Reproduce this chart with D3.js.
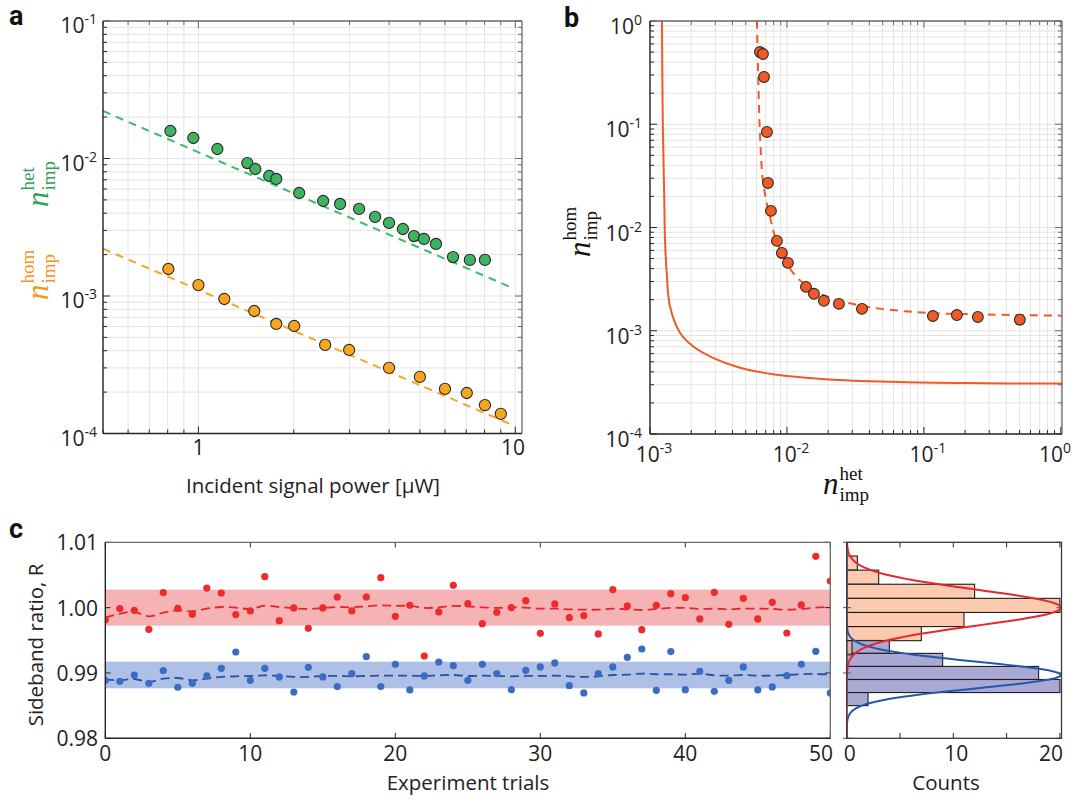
<!DOCTYPE html>
<html>
<head>
<meta charset="utf-8">
<script src="https://cdn.jsdelivr.net/npm/d3@7"></script>
<style>
  body { margin: 0; background: #fff; }
  text { font-family: "Open Sans", "Noto Sans", sans-serif; fill: #222; }
  .math { font-family: "Liberation Serif", "DejaVu Serif", serif; }
  .letter { font-family: Roboto, "Liberation Sans", sans-serif; font-weight: 700; }
</style>
</head>
<body>
<svg id="fig" width="1074" height="803"></svg>
<script>
// ---------------- data ----------------
// (a) imprecision vs incident signal power
const powerHet = [0.816, 0.964, 1.148, 1.427, 1.512, 1.673, 1.761, 2.08, 2.476, 2.8, 3.214, 3.61, 3.996, 4.42, 4.79, 5.15, 5.62, 6.36, 7.19, 8.02];
const nHet     = [0.01585, 0.01409, 0.01172, 0.00927, 0.00839, 0.00746, 0.0071, 0.00561, 0.00491, 0.00467, 0.0043, 0.00376, 0.0034, 0.00307, 0.00273, 0.0026, 0.00239, 0.00192, 0.00183, 0.00183];
const powerHom = [0.804, 1.0, 1.207, 1.501, 1.761, 2.006, 2.512, 2.99, 3.996, 5.0, 6.0, 7.03, 8.02, 9.0];
const nHom     = [0.001572, 0.0012, 0.000951, 0.000778, 0.000626, 0.000605, 0.000441, 0.000405, 0.0003, 0.000258, 0.000211, 0.000197, 0.000161, 0.000139];
// 1/P fit lines, given by their end points [power, n]
const fitHet = [[0.5, 0.02215], [9.64, 0.001163]];
const fitHom = [[0.5, 0.002208], [9.64, 0.0001172]];

// (b) homodyne vs heterodyne imprecision
const bHet = [0.00635, 0.00668, 0.0068, 0.00714, 0.00727, 0.00764, 0.00845, 0.00919, 0.01017, 0.01377, 0.01575, 0.01862, 0.02397, 0.0353, 0.1164, 0.1742, 0.2479, 0.502];
const bHom = [0.501, 0.479, 0.287, 0.0842, 0.027, 0.01448, 0.00742, 0.00567, 0.00454, 0.00266, 0.00228, 0.00195, 0.00182, 0.00163, 0.00139, 0.00142, 0.00136, 0.00128];
// model curve (dashed) and bound (solid)
const modelHet = [0.00604, 0.00617, 0.00635, 0.00671, 0.00751, 0.0084, 0.01112, 0.01549, 0.02307, 0.0382, 0.0668, 0.1164, 0.205, 0.359, 1.02];
const modelHom = [1.0, 0.289, 0.0824, 0.027, 0.01276, 0.00742, 0.00361, 0.00249, 0.00199, 0.00171, 0.00156, 0.00148, 0.00145, 0.001426, 0.0014];
const boundHet = [0.001223, 0.00124, 0.00127, 0.001287, 0.001324, 0.0014, 0.001656, 0.00207, 0.002884, 0.00454, 0.0079, 0.01472, 0.02168, 0.0668, 0.205, 1.02];
const boundHom = [1.0, 0.1, 0.02, 0.00759, 0.003635, 0.001715, 0.000955, 0.000703, 0.000547, 0.000438, 0.00038, 0.000348, 0.000335, 0.000318, 0.000311, 0.000308];

// (c) sideband ratio per trial
const trials = d3.range(0, 51);
const ratioRed = [0.99816, 0.99985, 0.99959, 0.99668, 1.0023, 0.9999, 0.999, 1.003, 1.00224, 0.99893, 0.99949, 1.00474, 0.99801, 0.99995, 0.99684, 0.99995, 1.00163, 0.99949, 1.00163, 1.00459, 0.99867, 1.00036,
  0.9926, 0.99934, 1.00342, 1.00061, 0.99755, 0.99929, 1.0, 1.00107, 0.99607, 1.00056, 0.99847, 0.99878, 0.99597, 1.00276, 1.00026, 0.99663, 1.00036, 1.00214, 1.00153, 0.99827, 1.00235, 0.99745, 1.00143, 0.99827, 1.00082, 0.99612, 1.00041, 1.00786, 1.00408];
const ratioBlue = [0.98888, 0.98872, 0.98969, 0.98842, 0.99036, 0.98781, 0.98842, 0.98954, 0.99071, 0.99321, 0.98888, 0.99071, 0.98939, 0.98709, 0.99087, 0.98939, 0.98791, 0.9899, 0.9925, 0.98791, 0.99133, 0.9874,
  0.98954, 0.99168, 0.99112, 0.98888, 0.99133, 0.9899, 0.98745, 0.99041, 0.99092, 0.99153, 0.98806, 0.98694, 0.9899, 0.99092, 0.9924, 0.99367, 0.98735, 0.99327, 0.98745, 0.99026, 0.98719, 0.98888, 0.99092, 0.9874, 0.98786, 0.98959, 0.99133, 0.99332, 0.98694];
const avgRed = [0.99847, 0.99908, 0.99934, 0.99867, 0.99923, 0.99959, 0.99944, 0.99985, 1.0001, 1.0, 0.9998, 1.00031, 1.0001, 0.9999, 0.9998, 0.99995, 1.0001, 1.00005, 1.0002, 1.00036, 1.00026, 1.00031,
  0.99995, 1.00005, 1.00026, 1.0002, 1.00005, 0.99995, 1.00005, 1.0, 0.99985, 0.99985, 0.99974, 0.99969, 0.99969, 0.99985, 0.99974, 0.99964, 0.9998, 0.99995, 0.99995, 0.9998, 0.99985, 0.99974, 0.99985, 0.99985, 0.9998, 0.99969, 0.9998, 1.0, 1.0001];
const avgBlue = [0.98898, 0.98888, 0.98908, 0.98862, 0.98913, 0.98923, 0.98888, 0.98913, 0.98939, 0.98949, 0.98954, 0.98964, 0.98954, 0.98939, 0.98939, 0.98954, 0.98954, 0.98949, 0.98954, 0.98959, 0.98959, 0.98959,
  0.98954, 0.98964, 0.98969, 0.98954, 0.98959, 0.98954, 0.98949, 0.98954, 0.98954, 0.98959, 0.98949, 0.98939, 0.98949, 0.98969, 0.98974, 0.9899, 0.9898, 0.9898, 0.98974, 0.9899, 0.98964, 0.98959, 0.98969, 0.98959, 0.98959, 0.98969, 0.9898, 0.98985, 0.98974];
const bandRed  = [0.997245, 1.002755];
const bandBlue = [0.98765, 0.99173];

// histogram bins (edges from top to bottom) and counts
const histRedEdges  = [1.0079, 1.00574, 1.00358, 1.00142, 0.99926, 0.9971, 0.99494, 0.99278];
const histRedCounts = [1, 3, 12, 20, 11, 7, 0.5];
const histBlueEdges  = [0.995, 0.993, 0.991, 0.989, 0.987, 0.985];
const histBlueCounts = [4, 9, 18, 20, 2];
// Gaussian fits: [mean, sigma, peak count]
const fitRed  = [1.0, 0.00275, 20.1];
const fitBlue = [0.98969, 0.00204, 20.1];

// tick labels
const aXTicks = [1, 10];
const aYTicks = [1e-4, 1e-3, 1e-2, 1e-1];
const bXTicks = [1e-3, 1e-2, 1e-1, 1];
const bYTicks = [1e-4, 1e-3, 1e-2, 1e-1, 1];
const cXTicks = [0, 10, 20, 30, 40, 50];
const cYTicks = [0.98, 0.99, 1.00, 1.01];
const hXTicks = [0, 10, 20];
const hMinorTicks = [5, 15];

// ---------------- drawing ----------------
const svg = d3.select('#fig');
svg.append('rect').attr('width', 1074).attr('height', 803).attr('fill', '#fff');

const GRID = '#e4e4e4';
const AXD = '#262626';
const AXL = '#6a6a6a';
const FONT_TICK = 21;
const FONT_TITLE = 20.5;

let clipId = 0;
function clipFor(x0, y0, x1, y1) {
  const id = 'clip' + (clipId++);
  svg.append('clipPath').attr('id', id).append('rect')
    .attr('x', x0).attr('y', y0).attr('width', x1 - x0).attr('height', y1 - y0);
  return 'url(#' + id + ')';
}

// keep a tick label's right edge inside a limit
function clampRight(t, maxRight) {
  const b = t.node().getBBox();
  const over = b.x + b.width - maxRight;
  if (over > 0) t.attr('x', +t.attr('x') - over);
  return t;
}

function expLabel(g, v, x, y, anchor) {
  const e = Math.round(Math.log10(v));
  const t = g.append('text').attr('x', x).attr('y', y).attr('text-anchor', anchor)
    .attr('font-size', FONT_TICK);
  t.append('tspan').text('10');
  t.append('tspan').attr('dy', -9).attr('font-size', 14).text(e === 0 ? '0' : '-' + Math.abs(e));
  return t;
}

function isDecade(v) {
  const l = Math.log10(v);
  return Math.abs(l - Math.round(l)) < 1e-6;
}

// log-log grid
function logGrid(x, y) {
  const [x0, x1] = x.range();
  const [y0, y1] = y.range(); // y0 bottom, y1 top
  const g = svg.append('g');
  g.selectAll('line.gx').data(x.ticks()).join('line')
    .attr('x1', d => x(d)).attr('x2', d => x(d)).attr('y1', y1).attr('y2', y0)
    .attr('stroke', GRID).attr('stroke-width', 1);
  g.selectAll('line.gy').data(y.ticks()).join('line')
    .attr('y1', d => y(d)).attr('y2', d => y(d)).attr('x1', x0).attr('x2', x1)
    .attr('stroke', GRID).attr('stroke-width', 1);
}
// box and inward ticks on all four sides
function logTicks(x, y) {
  const [x0, x1] = x.range();
  const [y0, y1] = y.range();
  const g = svg.append('g');
  x.ticks().forEach(d => {
    const L = isDecade(d) ? 7 : 4;
    g.append('line').attr('x1', x(d)).attr('x2', x(d)).attr('y1', y0).attr('y2', y0 - L).attr('stroke', AXD).attr('stroke-width', 1);
    g.append('line').attr('x1', x(d)).attr('x2', x(d)).attr('y1', y1).attr('y2', y1 + L).attr('stroke', AXL).attr('stroke-width', 1);
  });
  y.ticks().forEach(d => {
    const L = isDecade(d) ? 7 : 4;
    g.append('line').attr('y1', y(d)).attr('y2', y(d)).attr('x1', x0).attr('x2', x0 + L).attr('stroke', AXD).attr('stroke-width', 1);
    g.append('line').attr('y1', y(d)).attr('y2', y(d)).attr('x1', x1).attr('x2', x1 - L).attr('stroke', AXL).attr('stroke-width', 1);
  });
  g.append('line').attr('x1', x0).attr('x2', x1).attr('y1', y1).attr('y2', y1).attr('stroke', AXL).attr('stroke-width', 1.3);
  g.append('line').attr('x1', x1).attr('x2', x1).attr('y1', y1).attr('y2', y0).attr('stroke', AXL).attr('stroke-width', 1.3);
  g.append('line').attr('x1', x0).attr('x2', x1).attr('y1', y0).attr('y2', y0).attr('stroke', AXD).attr('stroke-width', 1.4);
  g.append('line').attr('x1', x0).attr('x2', x0).attr('y1', y1).attr('y2', y0).attr('stroke', AXD).attr('stroke-width', 1.4);
}

// n^{sup}_{sub} label, optionally rotated
function mathLabel(px, py, sup, sub, color, rotate) {
  const g = svg.append('g').attr('transform', `translate(${px},${py})` + (rotate ? ' rotate(-90)' : ''));
  const n = g.append('text').attr('class', 'math').attr('font-style', 'italic').attr('font-size', 31)
    .attr('x', 0).attr('y', 0).style('fill', color).text('n');
  const w = n.node().getComputedTextLength() + 1;
  g.append('text').attr('class', 'math').attr('font-size', 19).attr('x', w).attr('y', -14).style('fill', color).text(sup);
  g.append('text').attr('class', 'math').attr('font-size', 19).attr('x', w).attr('y', 7).style('fill', color).text(sub);
}

function panelLetter(t, x, y) {
  svg.append('text').attr('class', 'letter').attr('x', x).attr('y', y).attr('font-size', 27)
    .style('fill', '#111').text(t);
}

// ===== panel a =====
{
  const x = d3.scaleLog().domain([0.5, 10.5]).range([103, 522]);
  const y = d3.scaleLog().domain([1e-4, 1e-1]).range([433.5, 21]);
  logGrid(x, y);
  const clip = clipFor(103, 21, 522, 433.5);
  const line = d3.line().x(d => x(d[0])).y(d => y(d[1]));
  const plot = svg.append('g').attr('clip-path', clip);
  plot.append('path').attr('d', line(fitHet)).attr('fill', 'none').attr('stroke', '#3dbb6a')
    .attr('stroke-width', 2).attr('stroke-dasharray', '8,6');
  plot.append('path').attr('d', line(fitHom)).attr('fill', 'none').attr('stroke', '#f5a623')
    .attr('stroke-width', 2).attr('stroke-dasharray', '8,6');
  plot.selectAll('circle.het').data(powerHet).join('circle').attr('class', 'het')
    .attr('cx', d => x(d)).attr('cy', (d, i) => y(nHet[i])).attr('r', 5.6)
    .attr('fill', '#3db463').attr('stroke', '#2a2a2a').attr('stroke-width', 1.1);
  plot.selectAll('circle.hom').data(powerHom).join('circle').attr('class', 'hom')
    .attr('cx', d => x(d)).attr('cy', (d, i) => y(nHom[i])).attr('r', 5.6)
    .attr('fill', '#f9a61e').attr('stroke', '#2a2a2a').attr('stroke-width', 1.1);
  logTicks(x, y);
  aYTicks.forEach(v => expLabel(svg, v, 97, y(v) + 12, 'end'));
  aXTicks.forEach(v => clampRight(svg.append('text').attr('x', x(v)).attr('y', 455).attr('text-anchor', 'middle')
    .attr('font-size', FONT_TICK).text(v), 525));
  svg.append('text').attr('x', 313).attr('y', 493).attr('text-anchor', 'middle').attr('font-size', FONT_TITLE)
    .text('Incident signal power [μW]');
  mathLabel(48, 207, 'het', 'imp', '#2f9e58', true);
  mathLabel(48, 300, 'hom', 'imp', '#f7941d', true);
  panelLetter('a', 9, 25);
}

// ===== panel b =====
{
  const x = d3.scaleLog().domain([1e-3, 1.02]).range([650, 1062]);
  const y = d3.scaleLog().domain([1e-4, 1]).range([434, 21]);
  logGrid(x, y);
  const clip = clipFor(650, 21, 1062, 434);
  const plot = svg.append('g').attr('clip-path', clip);
  const curve = d3.line().x(d => x(d[0])).y(d => y(d[1])).curve(d3.curveCatmullRom.alpha(0.5));
  plot.append('path').attr('d', curve(boundHet.map((v, i) => [v, boundHom[i]])))
    .attr('fill', 'none').attr('stroke', '#f15a24').attr('stroke-width', 2);
  plot.append('path').attr('d', curve(modelHet.map((v, i) => [v, modelHom[i]])))
    .attr('fill', 'none').attr('stroke', '#f15a24').attr('stroke-width', 2).attr('stroke-dasharray', '8,6');
  plot.selectAll('circle').data(bHet).join('circle')
    .attr('cx', d => x(d)).attr('cy', (d, i) => y(bHom[i])).attr('r', 5.4)
    .attr('fill', '#f15a24').attr('stroke', '#2a2a2a').attr('stroke-width', 1.1);
  logTicks(x, y);
  bYTicks.forEach(v => expLabel(svg, v, 642, y(v) + 13, 'end'));
  bXTicks.forEach(v => clampRight(expLabel(svg, v, x(v) + 4, 462, 'middle'), 1071));
  mathLabel(823, 494, 'het', 'imp', '#111', false);
  mathLabel(590, 257, 'hom', 'imp', '#111', true);
  panelLetter('b', 564, 27);
}

// ===== panel c: trials =====
{
  const x = d3.scaleLinear().domain([0, 50]).range([105.3, 830.3]);
  const y = d3.scaleLinear().domain([0.98, 1.01]).range([738.3, 542.3]);
  const clip = clipFor(105.3, 542.3, 830.3, 738.3);
  const plot = svg.append('g').attr('clip-path', clip);
  plot.append('rect').attr('x', 105.3).attr('width', 725).attr('y', y(bandRed[1]))
    .attr('height', y(bandRed[0]) - y(bandRed[1])).attr('fill', '#f6b3b4');
  plot.append('rect').attr('x', 105.3).attr('width', 725).attr('y', y(bandBlue[1]))
    .attr('height', y(bandBlue[0]) - y(bandBlue[1])).attr('fill', '#aec0e5');
  const ln = d3.line().x((d, i) => x(trials[i])).y(d => y(d)).curve(d3.curveCatmullRom.alpha(0.5));
  plot.append('path').attr('d', ln(avgRed)).attr('fill', 'none').attr('stroke', '#e3262b')
    .attr('stroke-width', 1.8).attr('stroke-dasharray', '9,5');
  plot.append('path').attr('d', ln(avgBlue)).attr('fill', 'none').attr('stroke', '#2453a6')
    .attr('stroke-width', 1.8).attr('stroke-dasharray', '9,5');
  plot.selectAll('circle.r').data(ratioRed).join('circle').attr('class', 'r')
    .attr('cx', (d, i) => x(trials[i])).attr('cy', d => y(d)).attr('r', 3.6).attr('fill', '#ec2b2d');
  plot.selectAll('circle.b').data(ratioBlue).join('circle').attr('class', 'b')
    .attr('cx', (d, i) => x(trials[i])).attr('cy', d => y(d)).attr('r', 3.6).attr('fill', '#3b6bc2');
  const g = svg.append('g');
  cXTicks.forEach(v => {
    g.append('line').attr('x1', x(v)).attr('x2', x(v)).attr('y1', 738.3).attr('y2', 733).attr('stroke', AXD);
    g.append('line').attr('x1', x(v)).attr('x2', x(v)).attr('y1', 542.3).attr('y2', 547.5).attr('stroke', AXD);
    clampRight(g.append('text').attr('x', x(v)).attr('y', 761).attr('text-anchor', 'middle')
      .attr('font-size', FONT_TICK).text(v), 833);
  });
  cYTicks.forEach(v => {
    g.append('line').attr('y1', y(v)).attr('y2', y(v)).attr('x1', 105.3).attr('x2', 110.5).attr('stroke', AXD);
    g.append('line').attr('y1', y(v)).attr('y2', y(v)).attr('x1', 830.3).attr('x2', 825).attr('stroke', AXD);
    g.append('text').attr('x', 98).attr('y', y(v) + 8).attr('text-anchor', 'end').attr('font-size', FONT_TICK).text(v.toFixed(2));
  });
  g.append('line').attr('x1', 105.3).attr('x2', 830.3).attr('y1', 542.3).attr('y2', 542.3).attr('stroke', AXL).attr('stroke-width', 1.3);
  g.append('line').attr('x1', 830.3).attr('x2', 830.3).attr('y1', 542.3).attr('y2', 738.3).attr('stroke', AXL).attr('stroke-width', 1.3);
  g.append('line').attr('x1', 105.3).attr('x2', 830.3).attr('y1', 738.3).attr('y2', 738.3).attr('stroke', AXD).attr('stroke-width', 1.4);
  g.append('line').attr('x1', 105.3).attr('x2', 105.3).attr('y1', 542.3).attr('y2', 738.3).attr('stroke', AXD).attr('stroke-width', 1.4);
  svg.append('text').attr('x', 468).attr('y', 790).attr('text-anchor', 'middle').attr('font-size', FONT_TITLE).text('Experiment trials');
  svg.append('text').attr('transform', 'translate(43,645) rotate(-90)').attr('text-anchor', 'middle')
    .attr('font-size', FONT_TITLE).text('Sideband ratio, R');
  panelLetter('c', 9, 538);
}

// ===== panel c: histogram =====
{
  const x = d3.scaleLinear().domain([0, 20.15]).range([846.7, 1061.5]);
  const y = d3.scaleLinear().domain([0.98, 1.01]).range([738.3, 542.3]);
  const clip = clipFor(846.7, 542.3, 1061.5, 738.3);
  const plot = svg.append('g').attr('clip-path', clip);
  plot.selectAll('rect.hb').data(histBlueCounts).join('rect').attr('class', 'hb')
    .attr('x', x(0)).attr('width', d => x(d) - x(0))
    .attr('y', (d, i) => y(histBlueEdges[i])).attr('height', (d, i) => y(histBlueEdges[i + 1]) - y(histBlueEdges[i]))
    .attr('fill', '#aaa8d4').attr('stroke', '#1e1e1e').attr('stroke-width', 1.1);
  plot.selectAll('rect.hr').data(histRedCounts).join('rect').attr('class', 'hr')
    .attr('x', x(0)).attr('width', d => x(d) - x(0))
    .attr('y', (d, i) => y(histRedEdges[i])).attr('height', (d, i) => y(histRedEdges[i + 1]) - y(histRedEdges[i]))
    .attr('fill', '#fbb690').attr('fill-opacity', 0.72).attr('stroke', '#1e1e1e').attr('stroke-width', 1.1);
  // fitted Gaussians drawn from their fit parameters
  const ys = d3.range(0.98, 1.0101, 0.0002);
  const gauss = (p, v) => p[2] * Math.exp(-0.5 * Math.pow((v - p[0]) / p[1], 2));
  const gl = d3.line().x(d => d[0]).y(d => d[1]);
  plot.append('path').attr('d', gl(ys.map(v => [x(gauss(fitBlue, v)), y(v)])))
    .attr('fill', 'none').attr('stroke', '#2458ab').attr('stroke-width', 2);
  plot.append('path').attr('d', gl(ys.map(v => [x(gauss(fitRed, v)), y(v)])))
    .attr('fill', 'none').attr('stroke', '#e8262c').attr('stroke-width', 2);
  const g = svg.append('g');
  hXTicks.concat(hMinorTicks).forEach(v => {
    g.append('line').attr('x1', x(v)).attr('x2', x(v)).attr('y1', 738.3).attr('y2', 733).attr('stroke', AXD);
    g.append('line').attr('x1', x(v)).attr('x2', x(v)).attr('y1', 542.3).attr('y2', 547.5).attr('stroke', AXD);
  });
  hXTicks.forEach(v => clampRight(g.append('text').attr('x', x(v) + 3).attr('y', 761).attr('text-anchor', 'middle')
    .attr('font-size', FONT_TICK).text(v), 1063));
  cYTicks.forEach(v => {
    g.append('line').attr('y1', y(v)).attr('y2', y(v)).attr('x1', 843).attr('x2', 851).attr('stroke', '#555');
    g.append('line').attr('y1', y(v)).attr('y2', y(v)).attr('x1', 1061.5).attr('x2', 1056.5).attr('stroke', '#555');
  });
  g.append('rect').attr('x', 846.7).attr('y', 542.3).attr('width', 1061.5 - 846.7).attr('height', 196)
    .attr('fill', 'none').attr('stroke', '#3a3a3a').attr('stroke-width', 1.3);
  svg.append('text').attr('x', 946).attr('y', 790).attr('text-anchor', 'middle').attr('font-size', FONT_TITLE).text('Counts');
}
</script>
</body>
</html>
